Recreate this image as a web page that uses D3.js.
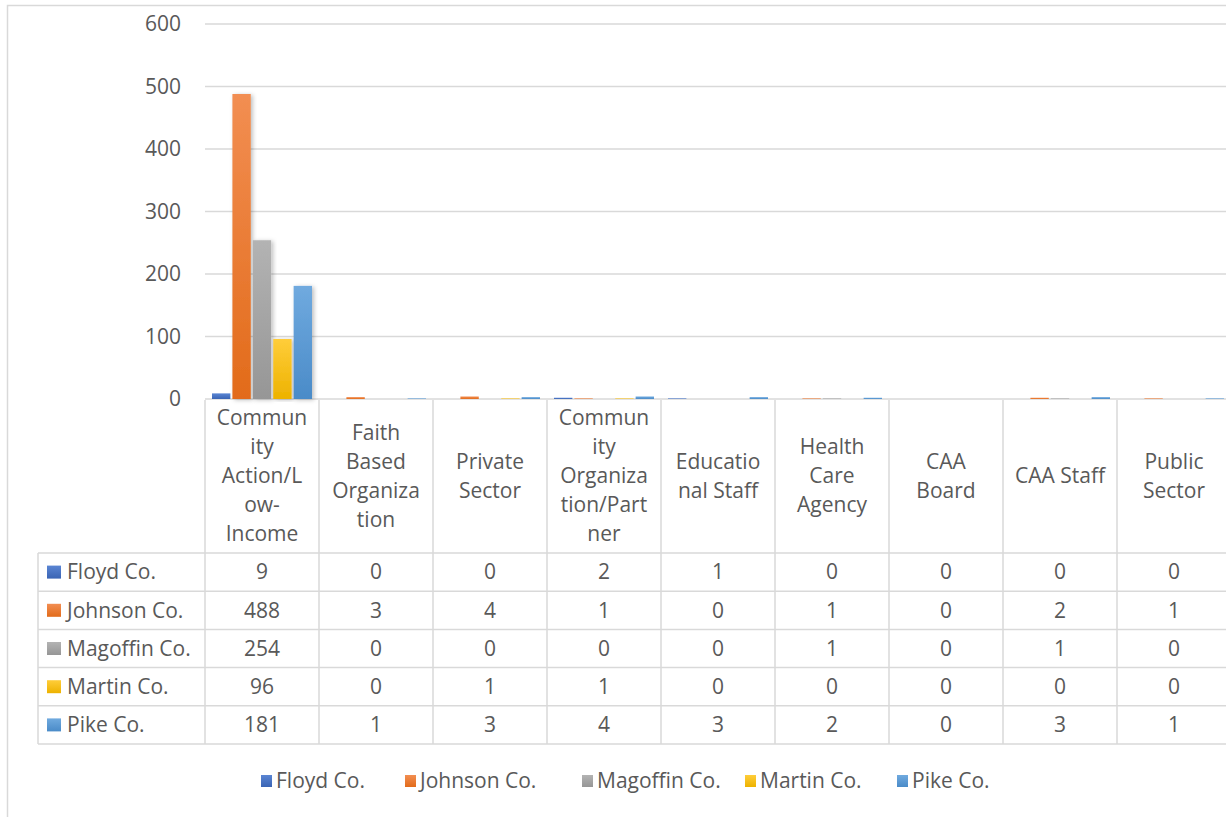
<!DOCTYPE html>
<html>
<head>
<meta charset="utf-8">
<script src="https://cdn.jsdelivr.net/npm/d3@7"></script>
<style>
  body { margin: 0; background: #fff; }
  svg { display: block; font-family: "Open Sans", sans-serif; }
</style>
</head>
<body>
<div id="chart"></div>
<script>
// chart data
const categories = ["Community Action/Low-Income", "Faith Based Organization", "Private Sector",
  "Community Organization/Partner", "Educational Staff", "Health Care Agency",
  "CAA Board", "CAA Staff", "Public Sector"];
// how Excel wrapped each category label
const categoryLines = [
  ["Commun", "ity", "Action/L", "ow-", "Income"],
  ["Faith", "Based", "Organiza", "tion"],
  ["Private", "Sector"],
  ["Commun", "ity", "Organiza", "tion/Part", "ner"],
  ["Educatio", "nal Staff"],
  ["Health", "Care", "Agency"],
  ["CAA", "Board"],
  ["CAA Staff"],
  ["Public", "Sector"]
];
const seriesNames = ["Floyd Co.", "Johnson Co.", "Magoffin Co.", "Martin Co.", "Pike Co."];
const floyd    = [9, 0, 0, 2, 1, 0, 0, 0, 0];
const johnson  = [488, 3, 4, 1, 0, 1, 0, 2, 1];
const magoffin = [254, 0, 0, 0, 0, 1, 0, 1, 0];
const martin   = [96, 0, 1, 1, 0, 0, 0, 0, 0];
const pike     = [181, 1, 3, 4, 3, 2, 0, 3, 1];
const yTicks = [0, 100, 200, 300, 400, 500, 600];

const seriesValues = [floyd, johnson, magoffin, martin, pike];
const colors = ["#4472C4", "#ED7D31", "#A5A5A5", "#FFC000", "#5B9BD5"];
const lightColors = ["#5a85d3", "#f28e52", "#b3b3b3", "#ffcd3a", "#70aadf"];
const darkColors = ["#3a64b4", "#e26b1a", "#969696", "#edb200", "#4a8bc8"];

const width = 1226, height = 817;
const plot = {left: 205, right: 1231, top: 24, bottom: 399};
const tableLeft = 38;
const headerBottom = 553;
const rowH = 38.2;
const textColor = "#595959";
const lineColor = "#d9d9d9";
const fontSize = "21px";

const svg = d3.select("#chart").append("svg")
  .attr("width", width)
  .attr("height", height);

const defs = svg.append("defs");
colors.forEach((c, i) => {
  const g = defs.append("linearGradient")
    .attr("id", "grad" + i)
    .attr("x1", 0).attr("y1", 0).attr("x2", 0).attr("y2", 1);
  g.append("stop").attr("offset", "0%").attr("stop-color", lightColors[i]);
  g.append("stop").attr("offset", "100%").attr("stop-color", darkColors[i]);
});
defs.append("filter").attr("id", "shadow")
  .attr("x", "-30%").attr("y", "-5%").attr("width", "160%").attr("height", "110%")
  .append("feDropShadow")
  .attr("dx", 2).attr("dy", 1).attr("stdDeviation", 2)
  .attr("flood-color", "#000").attr("flood-opacity", 0.25);

// outer chart border
svg.append("rect")
  .attr("x", 7.5).attr("y", 5.5)
  .attr("width", width).attr("height", height)
  .attr("fill", "none").attr("stroke", lineColor).attr("stroke-width", 1.5);

// scales
const x = d3.scaleBand()
  .domain(d3.range(categories.length))
  .range([plot.left, plot.right]);

const xInner = d3.scaleBand()
  .domain(d3.range(seriesNames.length))
  .range([7, x.bandwidth() - 7])
  .paddingInner(0.1);

const y = d3.scaleLinear()
  .domain([0, 600])
  .range([plot.bottom, plot.top]);

// gridlines
svg.append("g")
  .selectAll("line")
  .data(yTicks)
  .join("line")
    .attr("x1", plot.left).attr("x2", plot.right)
    .attr("y1", d => y(d)).attr("y2", d => y(d))
    .attr("stroke", lineColor).attr("stroke-width", 1.5);

// y axis labels
const yAxis = svg.append("g")
  .attr("transform", `translate(${plot.left - 24},0)`)
  .call(d3.axisLeft(y).tickValues(yTicks).tickSize(0).tickPadding(0));
yAxis.select(".domain").remove();
yAxis.selectAll("text")
  .attr("fill", textColor)
  .attr("font-size", fontSize)
  .attr("font-family", "Open Sans, sans-serif");

// bars
const groups = svg.append("g")
  .selectAll("g")
  .data(seriesNames)
  .join("g")
    .attr("fill", (d, i) => `url(#grad${i})`);

groups.selectAll("rect")
  .data((s, si) => seriesValues[si].map((v, ci) => ({si, ci, v})))
  .join("rect")
    .filter(d => d.v > 0)
    .attr("x", d => x(d.ci) + xInner(d.si))
    .attr("y", d => y(d.v))
    .attr("width", xInner.bandwidth())
    .attr("height", d => y(0) - y(d.v))
    .attr("filter", d => d.v > 20 ? "url(#shadow)" : null);

// data table
const table = svg.append("g");
const rowsTop = headerBottom;
const tableBottom = rowsTop + rowH * seriesNames.length;

// vertical column lines
table.selectAll(".vline")
  .data(d3.range(categories.length + 1))
  .join("line")
    .attr("class", "vline")
    .attr("x1", i => i < categories.length ? x(i) : plot.right)
    .attr("x2", i => i < categories.length ? x(i) : plot.right)
    .attr("y1", plot.bottom + 1).attr("y2", tableBottom)
    .attr("stroke", lineColor).attr("stroke-width", 1.5);

table.append("line")
  .attr("x1", tableLeft).attr("x2", tableLeft)
  .attr("y1", rowsTop).attr("y2", tableBottom)
  .attr("stroke", lineColor).attr("stroke-width", 1.5);

// horizontal row lines
table.selectAll(".hline")
  .data(d3.range(seriesNames.length + 1))
  .join("line")
    .attr("class", "hline")
    .attr("x1", tableLeft).attr("x2", plot.right)
    .attr("y1", i => rowsTop + i * rowH).attr("y2", i => rowsTop + i * rowH)
    .attr("stroke", lineColor).attr("stroke-width", 1.5);

// category header labels
const lineH = 29;
const headerMid = (plot.bottom + headerBottom) / 2;
table.selectAll(".cat")
  .data(categoryLines)
  .join("text")
    .attr("class", "cat")
    .attr("text-anchor", "middle")
    .attr("fill", textColor)
    .attr("font-size", fontSize)
    .each(function(lines, i) {
      const t = d3.select(this);
      const start = headerMid - (lines.length - 1) * lineH / 2;
      lines.forEach((ln, k) => {
        t.append("tspan")
          .attr("x", x(i) + x.bandwidth() / 2)
          .attr("y", start + k * lineH)
          .attr("dy", "0.35em")
          .text(ln);
      });
    });

// row headers with keys
const rows = table.selectAll(".row")
  .data(seriesNames)
  .join("g")
    .attr("class", "row")
    .attr("transform", (d, i) => `translate(0,${rowsTop + i * rowH + rowH / 2})`);

rows.append("rect")
  .attr("x", 47).attr("y", -6.5)
  .attr("width", 14).attr("height", 13)
  .attr("fill", (d, i) => `url(#grad${i})`);

rows.append("text")
  .attr("x", 67).attr("dy", "0.35em")
  .attr("fill", textColor).attr("font-size", fontSize)
  .text(d => d);

rows.selectAll(".val")
  .data((d, si) => seriesValues[si])
  .join("text")
    .attr("class", "val")
    .attr("x", (v, ci) => x(ci) + x.bandwidth() / 2)
    .attr("dy", "0.35em")
    .attr("text-anchor", "middle")
    .attr("fill", textColor).attr("font-size", fontSize)
    .text(v => v);

// bottom legend
const legendX = [261, 405, 582, 745, 897];
const legend = svg.append("g")
  .selectAll("g")
  .data(seriesNames)
  .join("g")
    .attr("transform", (d, i) => `translate(${legendX[i]},781)`);

legend.append("rect")
  .attr("x", 0).attr("y", -6)
  .attr("width", 11).attr("height", 12)
  .attr("fill", (d, i) => `url(#grad${i})`);

legend.append("text")
  .attr("x", 15).attr("dy", "0.35em")
  .attr("fill", textColor).attr("font-size", fontSize)
  .text(d => d);
</script>
</body>
</html>
